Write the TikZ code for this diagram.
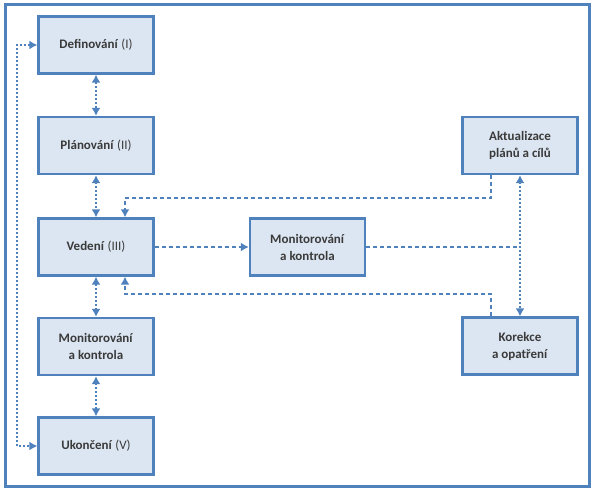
\documentclass[tikz,border=0pt]{standalone}
\usepackage{fontspec}
\setmainfont{Carlito}
\usetikzlibrary{arrows.meta}
\definecolor{boxblue}{HTML}{4F81BD}
\definecolor{boxfill}{HTML}{DCE6F2}
\definecolor{txtgray}{HTML}{3A3A3A}
\begin{document}
\begin{tikzpicture}[x=1pt,y=-1pt,>={Latex[length=8pt,width=9pt]},
    phase/.style={draw=boxblue,line width=2.3pt,fill=boxfill,minimum width=115pt,minimum height=57pt,
        align=center,text=txtgray,font=\fontsize{13}{17}\selectfont},
    flow/.style={draw=boxblue,line width=2pt,dash pattern=on 2pt off 2pt},
    feed/.style={draw=boxblue,line width=2pt,dash pattern=on 4pt off 3pt}]
        \useasboundingbox (0,0) rectangle (591,490);
        \draw[boxblue,line width=3pt] (5,4) rectangle (589,486);

        % phases
        \node[phase] (def) at (96,45) {\textbf{Definování} (I)};
        \node[phase] (plan) at (96,145.5) {\textbf{Plánování} (II)};
        \node[phase] (ved) at (96,247) {\textbf{Vedení} (III)};
        \node[phase] (monl) at (96,346.5) {\textbf{Monitorování}\\\textbf{a kontrola}};
        \node[phase] (ukon) at (96,446) {\textbf{Ukončení} (V)};

        \node[phase] (monm) at (307.5,247) {\textbf{Monitorování}\\\textbf{a kontrola}};
        \node[phase] (akt) at (520,145.5) {\textbf{Aktualizace}\\\textbf{plánů a cílů}};
        \node[phase] (kor) at (520,346) {\textbf{Korekce}\\\textbf{a opatření}};

        \draw[flow,<->] (def)--(plan);
        \draw[flow,<->] (plan)--(ved);
        \draw[flow,<->] (ved)--(monl);
        \draw[flow,<->] (monl)--(ukon);
        \coordinate (loop) at (17,45);
        \draw[flow,<->] (def.west)--(loop)|-(ukon.west);

        \draw[feed,->] (ved)--(monm);
        \coordinate (join) at (akt.south|-monm.east);
        \draw[feed] (monm.east)--(join);
        \draw[flow,<->] (akt)--(kor);
        \draw[feed,->] ([xshift=-29pt]akt.south)--++(0,23)-|([xshift=29pt]ved.north);
        \draw[feed,->] ([xshift=-29pt]kor.north)--++(0,-22)-|([xshift=29pt]ved.south);

    \end{tikzpicture}
\end{document}
